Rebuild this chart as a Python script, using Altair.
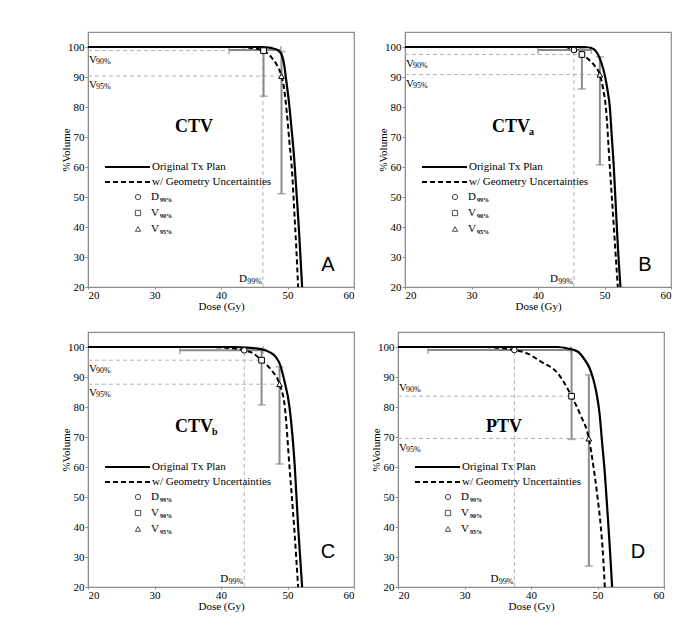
import altair as alt
import pandas as pd

X_TICKS = [20, 30, 40, 50, 60]
Y_TICKS = [20, 30, 40, 50, 60, 70, 80, 90, 100]

# ---------------- Panel A : CTV ----------------
A_orig_dose = [20, 46.0, 47.5, 48.5, 49.1, 49.5, 49.8, 50.2, 50.6, 51.0, 51.4, 51.75, 52.0, 52.2]
A_orig_vol = [100, 100, 99.7, 99.0, 97.5, 94.0, 89.0, 82.0, 73.0, 63.0, 50.0, 38.0, 28.0, 20.0]
A_unc_dose = [20, 42.0, 44.5, 46.4, 47.5, 48.4, 49.1, 49.5, 49.9, 50.3, 50.7, 51.0, 51.3, 51.6]
A_unc_vol = [100, 100, 99.7, 98.8, 96.8, 94.0, 90.3, 86.0, 78.0, 68.0, 58.0, 46.0, 34.0, 20.0]
A_points_dose = [46.3, 46.4, 49.1]      # D99%, V90%, V95%
A_points_vol = [99.0, 98.8, 90.3]
A_d99_err = [41.2, 49.0]
A_v90_err = [83.6, 99.8]
A_v95_err = [51.1, 98.5]

# ---------------- Panel B : CTVa ----------------
B_orig_dose = [20, 47.0, 48.2, 48.9, 49.5, 50.1, 50.5, 50.8, 51.1, 51.4, 51.85, 52.1, 52.4]
B_orig_vol = [100, 100, 99.5, 98.0, 95.0, 90.0, 85.0, 80.0, 70.0, 60.0, 40.0, 30.0, 20.0]
B_unc_dose = [20, 44.0, 45.4, 46.6, 47.8, 48.6, 49.3, 49.8, 50.2, 50.8, 51.4, 52.0]
B_unc_vol = [100, 100, 99.0, 97.5, 95.5, 93.5, 90.8, 86.0, 80.0, 60.0, 40.0, 20.0]
B_points_dose = [45.4, 46.6, 49.3]
B_points_vol = [99.0, 97.5, 90.8]
B_d99_err = [40.0, 48.0]
B_v90_err = [86.0, 99.5]
B_v95_err = [60.7, 96.7]

# ---------------- Panel C : CTVb ----------------
C_orig_dose = [20, 42.0, 44.0, 46.0, 47.3, 48.2, 48.9, 49.5, 50.3, 51.1, 51.6, 52.2]
C_orig_vol = [100, 100, 99.8, 99.3, 98.3, 96.8, 94.0, 89.0, 80.0, 60.0, 40.0, 20.0]
C_unc_dose = [20, 38.0, 41.0, 43.5, 44.9, 46.1, 47.5, 48.8, 49.6, 50.3, 51.0, 51.6]
C_unc_vol = [100, 100, 99.7, 98.9, 97.8, 95.6, 92.5, 87.6, 80.0, 60.0, 40.0, 20.0]
C_points_dose = [43.5, 46.1, 48.8]
C_points_vol = [98.9, 95.6, 87.6]
C_d99_err = [33.8, 46.3]
C_v90_err = [80.7, 99.3]
C_v95_err = [61.0, 93.4]

# ---------------- Panel D : PTV ----------------
D_orig_dose = [20, 44.0, 45.5, 47.0, 48.0, 48.8, 49.4, 49.9, 50.3, 50.7, 51.1, 51.5, 51.8, 52.2]
D_orig_vol = [100, 100, 99.5, 98.5, 96.0, 93.0, 89.0, 84.0, 78.0, 68.0, 58.0, 45.0, 35.0, 20.0]
D_unc_dose = [20, 33.0, 35.5, 37.5, 39.5, 41.5, 44.0, 46.1, 47.4, 48.7, 49.4, 50.0, 50.5, 50.85, 51.1]
D_unc_vol = [100, 100, 99.6, 99.0, 97.8, 95.1, 91.3, 83.6, 77.5, 69.5, 60.0, 50.0, 40.0, 30.0, 20.0]
D_points_dose = [37.5, 46.1, 48.7]
D_points_vol = [99.0, 83.6, 69.5]
D_d99_err = [24.5, 46.0]
D_v90_err = [69.2, 98.8]
D_v95_err = [27.0, 90.7]

TITLES = ["CTV", "CTV", "CTV", "PTV"]
TITLE_SUBS = ["", "a", "b", ""]
LETTERS = ["A", "B", "C", "D"]
LEGEND_LABELS = ["Original Tx Plan", "w/ Geometry Uncertainties"]
MARKER_NAMES = ["D", "V", "V"]
MARKER_SUBS = ["99%", "90%", "95%"]
SHAPES = ["circle", "square", "triangle-up"]

SERIF = "Liberation Serif"
SANS = "Liberation Sans"
FRAME = "#8c8c8c"
ERR = "#8a8a8a"
REF = "#b4b4b4"

W, H = 266, 255


def xenc(field="d"):
    return alt.X(f"{field}:Q", scale=alt.Scale(domain=[20, 60], nice=False, zero=False),
                 axis=alt.Axis(values=X_TICKS, title="Dose (Gy)", format="d"))


def yenc(field="v"):
    return alt.Y(f"{field}:Q", scale=alt.Scale(domain=[20, 105], nice=False, zero=False),
                 axis=alt.Axis(values=Y_TICKS, title="%Volume", format="d",
                               titleX=-17, titleY=H / 2 - 10, labelPadding=1))


def one():
    return alt.Data(values=[{"k": 1}])


def panel(idx, od, ov, ud, uv, pd_, pv, d99e, v90e, v95e, letter_y=233, v90_dy=9):
    X = xenc
    Y = yenc

    orig = pd.DataFrame({"d": od, "v": ov, "i": list(range(len(od)))})
    unc = pd.DataFrame({"d": ud, "v": uv, "i": list(range(len(ud)))})
    pts = pd.DataFrame({"d": pd_, "v": pv, "s": SHAPES})

    # reference dashed lines
    href = pd.DataFrame({"x0": [20, 20], "x1": [pd_[1], pd_[2]], "v": [pv[1], pv[2]]})
    vref = pd.DataFrame({"d": [pd_[0]], "y0": [20], "y1": [pv[0]]})
    ref_h = alt.Chart(href).mark_rule(color=REF, strokeWidth=1, strokeDash=[4, 3]).encode(
        x=X("x0"), x2="x1:Q", y=Y("v"))
    ref_v = alt.Chart(vref).mark_rule(color=REF, strokeWidth=1, strokeDash=[4, 3]).encode(
        x=X("d"), y=Y("y0"), y2="y1:Q")

    # error bars
    herr = pd.DataFrame({"lo": [d99e[0]], "hi": [d99e[1]], "v": [pv[0]]})
    verr = pd.DataFrame({"d": [pd_[1], pd_[2]], "lo": [v90e[0], v95e[0]], "hi": [v90e[1], v95e[1]]})
    hcaps = pd.DataFrame({"d": d99e, "v": [pv[0], pv[0]]})
    vcaps = pd.DataFrame({"d": [pd_[1], pd_[1], pd_[2], pd_[2]],
                          "v": [v90e[0], v90e[1], v95e[0], v95e[1]]})
    e_h = alt.Chart(herr).mark_rule(color=ERR, strokeWidth=2).encode(x=X("lo"), x2="hi:Q", y=Y("v"))
    e_v = alt.Chart(verr).mark_rule(color=ERR, strokeWidth=2).encode(x=X("d"), y=Y("lo"), y2="hi:Q")
    c_h = alt.Chart(hcaps).mark_tick(color=ERR, orient="vertical", size=8, thickness=1.5).encode(
        x=X("d"), y=Y("v"))
    c_v = alt.Chart(vcaps).mark_tick(color=ERR, orient="horizontal", size=8, thickness=1.5).encode(
        x=X("d"), y=Y("v"))

    l_orig = alt.Chart(orig).mark_line(color="black", strokeWidth=2.2, interpolate="monotone").encode(
        x=X(), y=Y(), order="i:Q")
    l_unc = alt.Chart(unc).mark_line(color="black", strokeWidth=2, strokeDash=[5, 3],
                                     interpolate="monotone").encode(x=X(), y=Y(), order="i:Q")

    marks = alt.Chart(pts).mark_point(filled=True, fill="white", stroke="black", strokeWidth=1,
                                      size=32, opacity=1).encode(
        x=X(), y=Y(), shape=alt.Shape("s:N", scale=None))

    # annotation labels
    ann90 = pd.DataFrame({"x0": [20], "v": [pv[1]], "sub": ["90%"]})
    ann95 = pd.DataFrame({"x0": [20], "v": [pv[2]], "sub": ["95%"]})
    ann_layers = []
    for adf, ddy in ((ann90, v90_dy), (ann95, 9)):
        ann_layers.append(alt.Chart(adf).mark_text(font=SERIF, fontSize=11, align="left", dx=1, dy=ddy,
                                                   color="black").encode(
            x=X("x0"), y=Y("v"), text=alt.value("V")))
        ann_layers.append(alt.Chart(adf).mark_text(font=SERIF, fontSize=8, align="left", dx=8,
                                                   dy=ddy + 2, color="black").encode(
            x=X("x0"), y=Y("v"), text="sub:N"))
    dlab = pd.DataFrame({"d": [pd_[0]], "v": [20]})
    t_d = alt.Chart(dlab).mark_text(font=SERIF, fontSize=11, align="right", dx=-16, dy=-8,
                                    color="black").encode(x=X("d"), y=Y("v"), text=alt.value("D"))
    t_ds = alt.Chart(dlab).mark_text(font=SERIF, fontSize=8, align="right", dx=-1, dy=-5,
                                     color="black").encode(x=X("d"), y=Y("v"), text=alt.value("99%"))

    # panel title and letter
    title = alt.Chart(one()).mark_text(font=SERIF, fontSize=18, fontWeight="bold", align="center",
                                       baseline="middle", color="black").encode(
        x=alt.value(106), y=alt.value(95), text=alt.value(TITLES[idx]))
    layers = [ref_h, ref_v, e_h, e_v, c_h, c_v, l_orig, l_unc, marks] + ann_layers + [t_d, t_ds, title]
    if TITLE_SUBS[idx]:
        layers.append(alt.Chart(one()).mark_text(font=SERIF, fontSize=10, fontWeight="bold",
                                                 align="left", baseline="middle", color="black").encode(
            x=alt.value(124), y=alt.value(100), text=alt.value(TITLE_SUBS[idx])))
    layers.append(alt.Chart(one()).mark_text(font=SANS, fontSize=20, align="center", baseline="middle",
                                             color="black").encode(
        x=alt.value(240), y=alt.value(letter_y), text=alt.value(LETTERS[idx])))

    # legend
    leg_y = [135, 150]
    layers.append(alt.Chart(one()).mark_rule(color="black", strokeWidth=2.2).encode(
        x=alt.value(17), x2=alt.value(62), y=alt.value(leg_y[0])))
    layers.append(alt.Chart(one()).mark_rule(color="black", strokeWidth=2, strokeDash=[5, 3]).encode(
        x=alt.value(17), x2=alt.value(62), y=alt.value(leg_y[1])))
    for k, lab in enumerate(LEGEND_LABELS):
        layers.append(alt.Chart(one()).mark_text(font=SERIF, fontSize=11, align="left",
                                                 baseline="middle", color="black").encode(
            x=alt.value(64), y=alt.value(leg_y[k]), text=alt.value(lab)))
    for k in range(3):
        yy = 165 + 16 * k
        layers.append(alt.Chart(one()).mark_point(filled=True, fill="white", stroke="black",
                                                  strokeWidth=1, size=28, shape=SHAPES[k]).encode(
            x=alt.value(50), y=alt.value(yy)))
        layers.append(alt.Chart(one()).mark_text(font=SERIF, fontSize=11, align="left",
                                                 baseline="middle", color="black").encode(
            x=alt.value(63), y=alt.value(yy), text=alt.value(MARKER_NAMES[k])))
        layers.append(alt.Chart(one()).mark_text(font=SERIF, fontSize=6, fontWeight="bold",
                                                 align="left", baseline="middle", color="black").encode(
            x=alt.value(72), y=alt.value(yy + 3), text=alt.value(MARKER_SUBS[k])))

    return alt.layer(*layers).properties(width=W, height=H)


pA = panel(0, A_orig_dose, A_orig_vol, A_unc_dose, A_unc_vol, A_points_dose, A_points_vol,
           A_d99_err, A_v90_err, A_v95_err)
pB = panel(1, B_orig_dose, B_orig_vol, B_unc_dose, B_unc_vol, B_points_dose, B_points_vol,
           B_d99_err, B_v90_err, B_v95_err)
pC = panel(2, C_orig_dose, C_orig_vol, C_unc_dose, C_unc_vol, C_points_dose, C_points_vol,
           C_d99_err, C_v90_err, C_v95_err, letter_y=220)
pD = panel(3, D_orig_dose, D_orig_vol, D_unc_dose, D_unc_vol, D_points_dose, D_points_vol,
           D_d99_err, D_v90_err, D_v95_err, letter_y=220, v90_dy=-8)

row1 = alt.hconcat(pA, pB, spacing=20)
row2 = alt.hconcat(pC, pD, spacing=13)

chart = alt.vconcat(row1, row2, spacing=19).properties(
    padding={"left": 51, "top": 23, "right": 0, "bottom": 0}
).configure_view(stroke=FRAME, strokeWidth=1.2).configure_axis(
    grid=False, labelFont=SERIF, titleFont=SERIF, labelFontSize=11, titleFontSize=11,
    titleFontWeight="normal", labelColor="black", titleColor="black",
    domainColor=FRAME, tickColor=FRAME, tickSize=3
).configure_axisX(labelPadding=0, titlePadding=0, tickSize=2)

chart.save("out.html", embed_options={"renderer": "svg", "actions": False})
